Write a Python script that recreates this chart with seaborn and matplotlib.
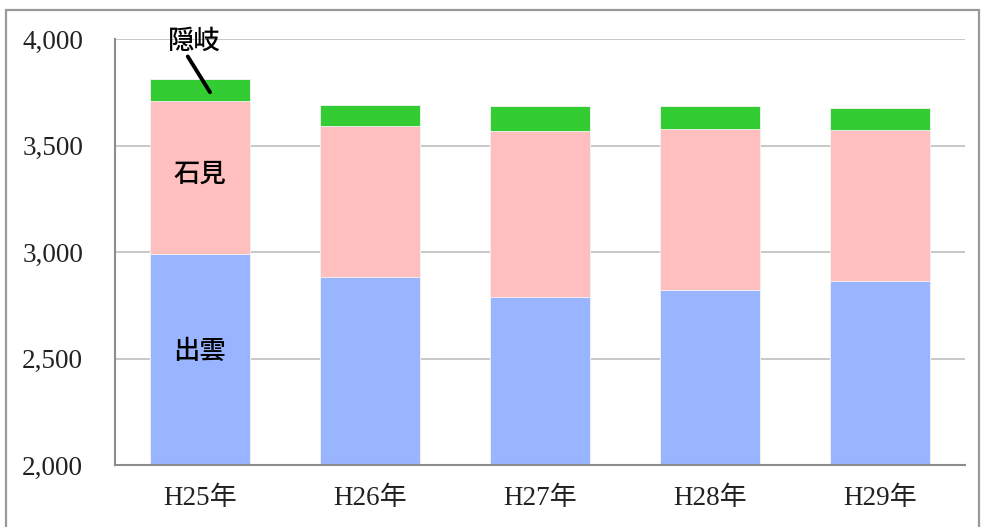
import matplotlib
matplotlib.use("Agg")
import matplotlib.pyplot as plt
from matplotlib.patches import Rectangle
import seaborn as sns
import pandas as pd
import numpy as np

categories = ["H25年", "H26年", "H27年", "H28年", "H29年"]
izumo = [2989, 2884, 2789, 2820, 2862]
iwami = [722, 707, 777, 757, 710]
oki = [100, 97, 120, 109, 103]

sns.set_style("white")
plt.rcParams['font.family'] = ['Noto Sans CJK JP', 'DejaVu Sans']

df = pd.DataFrame({"cat": categories, "izumo": izumo, "iwami": iwami, "oki": oki})
df["c2"] = df["izumo"] + df["iwami"]
df["c3"] = df["c2"] + df["oki"]

fig = plt.figure(figsize=(9.85, 5.27), dpi=100)
ax = fig.add_axes([115/985, 62/527, 850/985, 426/527])

w = 0.59
ec = dict(edgecolor="#f4f4f4", linewidth=0.6)
sns.barplot(data=df, x="cat", y="c3", color="#33CC33", saturation=1, width=w, ax=ax, zorder=3, **ec)
sns.barplot(data=df, x="cat", y="c2", color="#FFBFBF", saturation=1, width=w, ax=ax, zorder=3, **ec)
sns.barplot(data=df, x="cat", y="izumo", color="#99B5FF", saturation=1, width=w, ax=ax, zorder=3, **ec)

ax.set_ylim(2000, 4000)
ax.set_xlim(-0.5, 4.5)
ax.set_yticks([2000, 2500, 3000, 3500, 4000])
ax.set_yticklabels([f"{v:,}" for v in [2000, 2500, 3000, 3500, 4000]])
ax.set_xlabel("")
ax.set_ylabel("")
ax.grid(axis="y", color="#C4C4C4", linewidth=1.3, zorder=0)
ax.set_axisbelow(True)
for s in ["top", "right"]:
    ax.spines[s].set_visible(False)
for s in ["left", "bottom"]:
    ax.spines[s].set_color("#8C8C8C")
    ax.spines[s].set_linewidth(1.5)
    ax.spines[s].set_zorder(4)

serif = ['Liberation Serif', 'Noto Sans CJK JP']
ax.tick_params(axis="y", direction="out", length=6, width=1.3, color="#8C8C8C", pad=17, labelcolor="#222222")
ax.tick_params(axis="x", which="major", length=0, pad=15, labelcolor="#222222")
ax.set_xticks(np.arange(-0.5, 5.0, 1.0), minor=True)
ax.tick_params(axis="x", which="minor", direction="out", length=5, width=1.3, color="#8C8C8C")
for lab in ax.get_yticklabels() + ax.get_xticklabels():
    lab.set_family(serif)
    lab.set_fontsize(19.5)

tk = dict(ha="center", va="center", fontsize=19, color="black", zorder=5, fontweight="medium")
ax.text(0, 3363, "石見", **tk)
ax.text(0, 2532, "出雲", **tk)
ax.text(-0.035, 3990, "隠岐", **tk)
ax.plot([-0.072, 0.059], [3918, 3750], color="black", linewidth=2.8, zorder=5, clip_on=False)

fig.patches.append(Rectangle((6/985, -0.02), 973/985, 1.02 - 9.5/527, transform=fig.transFigure,
                             fill=False, edgecolor="#999999", linewidth=1.6))

fig.savefig("out.png", dpi=100)
